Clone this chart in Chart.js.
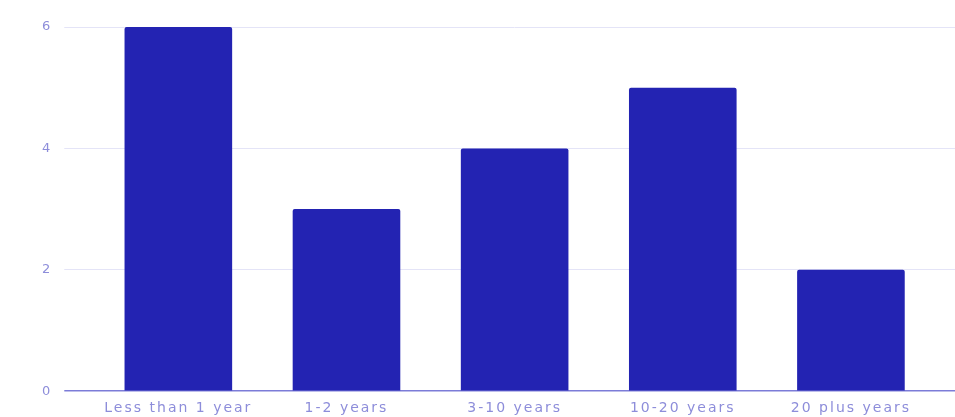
<!DOCTYPE html>
<html>
<head>
<meta charset="utf-8">
<script src="https://cdn.jsdelivr.net/npm/chart.js@4/dist/chart.umd.min.js"></script>
<style>
  html, body { margin: 0; padding: 0; background: #fff; }
  #wrap { width: 955px; height: 417px; position: relative; }
</style>
</head>
<body>
<div id="wrap"><canvas id="c"></canvas></div>
<script>
const categories = ['Less than 1 year', '1-2 years', '3-10 years', '10-20 years', '20 plus years']
const counts = [6, 3, 4, 5, 2]
const yTicks = [0, 2, 4, 6]

const textColor = '#8d8dda'
const gridColor = '#e4e4f7'
const zeroColor = '#7c7cd8'
const barColor = '#2323b2'

// the reference text is wide, so spread the letters a bit
const spacing = {
  id: 'spacing',
  beforeLayout(chart) { chart.ctx.letterSpacing = '2px' },
  beforeDraw(chart) { chart.ctx.letterSpacing = '2px' }
}

const gridLine = ctx => (ctx.tick && ctx.tick.value === 0 ? zeroColor : gridColor)
const gridWidth = ctx => (ctx.tick && ctx.tick.value === 0 ? 1.5 : 1)

new Chart(document.getElementById('c'), {
  type: 'bar',
  data: {
    labels: categories,
    datasets: [{
      data: counts,
      backgroundColor: barColor,
      borderRadius: 2,
      borderSkipped: 'bottom',
      barPercentage: 0.64,
      categoryPercentage: 1
    }]
  },
  options: {
    responsive: true,
    maintainAspectRatio: false,
    animation: false,
    layout: { padding: { top: 27, bottom: -9, left: 30, right: 0 } },
    plugins: { legend: { display: false }, tooltip: { enabled: false } },
    scales: {
      x: {
        grid: { display: false, drawTicks: false },
        border: { display: false },
        ticks: {
          color: textColor,
          padding: 9,
          maxRotation: 0,
          font: { family: 'DejaVu Sans', size: 14 }
        }
      },
      y: {
        min: 0,
        max: 6,
        afterBuildTicks: axis => { axis.ticks = yTicks.map(v => ({ value: v })) },
        grid: { color: gridLine, lineWidth: gridWidth, tickLength: 30 },
        border: { display: false },
        ticks: {
          color: textColor,
          padding: 12,
          font: { family: 'DejaVu Sans', size: 13 }
        }
      },
      y2: {
        position: 'right',
        min: 0,
        max: 6,
        afterBuildTicks: axis => { axis.ticks = yTicks.map(v => ({ value: v })) },
        grid: { color: gridLine, lineWidth: gridWidth, tickLength: 20, drawOnChartArea: false },
        border: { display: false },
        ticks: { display: false }
      }
    }
  },
  plugins: [spacing]
})
</script>
</body>
</html>
